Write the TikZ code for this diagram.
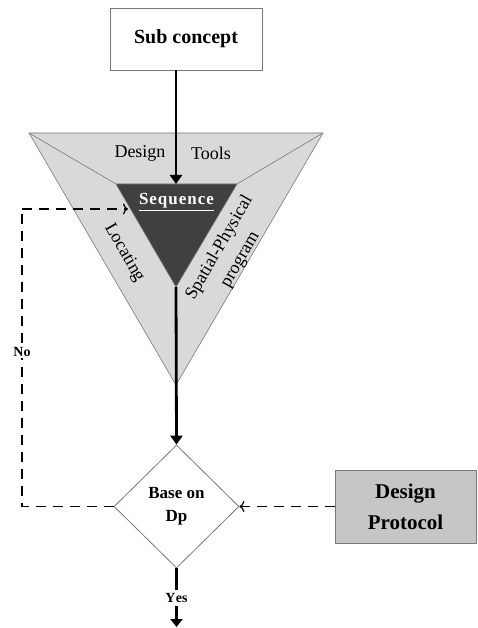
\documentclass[tikz,border=0pt]{standalone}
\usepackage{fontspec}
\setmainfont{Liberation Serif}
\usetikzlibrary{shapes.geometric,arrows.meta}
\definecolor{outerfill}{RGB}{217,217,217}
\definecolor{innerfill}{RGB}{64,64,64}
\definecolor{boxfill}{RGB}{198,198,198}
\definecolor{edgegray}{RGB}{120,120,120}
\tikzset{
  mainflow/.style={line width=2.8pt,-{Triangle[length=9pt,width=12pt]}},
  dashflow/.style={line width=1.5pt,dash pattern=on 10pt off 7pt},
  openhead/.style={-{To[length=5pt,width=11pt,line width=1.2pt]}},
  labelbox/.style={draw=edgegray,line width=0.8pt,font=\bfseries},
  triedge/.style={draw=edgegray,line width=0.6pt},
}
\begin{document}
\begin{tikzpicture}[x=1pt,y=-1pt]
\useasboundingbox (0,0) rectangle (477,628);

% outer and inner triangles
\coordinate (oL) at (29,133);
\coordinate (oR) at (323,133);
\coordinate (oB) at (176,385);
\coordinate (iL) at (116,184);
\coordinate (iR) at (237,184);
\coordinate (iB) at (176,287);
\coordinate (iT) at (176,184);
\fill[outerfill] (oL) -- (oR) -- (oB) -- cycle;
\draw[triedge] (oL) -- (oR) -- (oB) -- cycle;
\draw[triedge] (oL) -- (iL) (oR) -- (iR) (iB) -- (oB);
\fill[innerfill,draw=edgegray,line width=0.6pt] (iL) -- (iR) -- (iB) -- cycle;

% labels inside the triangle
\node[font=\fontsize{18}{20}\selectfont] (dlab) at (140,153) {Design};
\node[font=\fontsize{18}{20}\selectfont] (tlab) at (211,153) {Tools};
\node[font=\fontsize{17}{20}\selectfont\bfseries,text=white] (seq) at (176.5,202)
  {\underline{S\kern1pt e\kern1pt q\kern1pt u\kern1pt e\kern1pt n\kern1pt c\kern1pt e}};
\node[font=\fontsize{18}{20}\selectfont,rotate=-60] (loc) at (124,253) {Locating};
\node[font=\fontsize{18}{24}\selectfont,rotate=60,align=center] (spp) at (230,254)
  {Spatial-Physical\\program};

% boxes
\node[labelbox,fill=white,minimum width=152pt,minimum height=62pt,
      font=\fontsize{20}{22}\selectfont\bfseries] (sub) at (186,39) {Sub concept};
\node[draw=edgegray,line width=0.8pt,shape=diamond,fill=white,inner sep=0pt,
      minimum width=125pt,minimum height=123pt,align=center,
      font=\fontsize{17}{23}\selectfont\bfseries] (dec) at (176.5,506.5) {Base on\\Dp};
\node[labelbox,fill=boxfill,minimum width=141pt,minimum height=73pt,align=center,
      font=\fontsize{21}{31}\selectfont\bfseries] (dp) at (405.5,506.5) {Design\\Protocol};

% main flow
\draw[mainflow] (sub.south -| iT) -- (iT);
\draw[mainflow] (iB) -- (dec.north);
\coordinate (yesend) at (176.5,627);
\draw[line width=2.8pt] (dec.south) -- ++(0,22);
\node[font=\fontsize{14}{15}\selectfont\bfseries] (yes) at (176.5,598) {Y\kern0.5pt es};
\draw[line width=2.8pt,-{Triangle[length=8pt,width=12pt]}] (176.5,606) -- (yesend);

% protocol feed
\draw[dashflow,openhead] (dp.west) -- (dec.east);

% "No" loop back to the sequence
\coordinate (c1) at (22,506.5);
\coordinate (c2) at (22,209);
\coordinate (seqin) at (128,209);
\draw[dashflow] (dec.west) -- (c1) -- (c2);
\draw[dashflow,openhead] (c2) -- (seqin);
\node[fill=white,inner sep=1.5pt,font=\fontsize{14}{15}\selectfont\bfseries] (no) at (22,352) {No};
\end{tikzpicture}
\end{document}
